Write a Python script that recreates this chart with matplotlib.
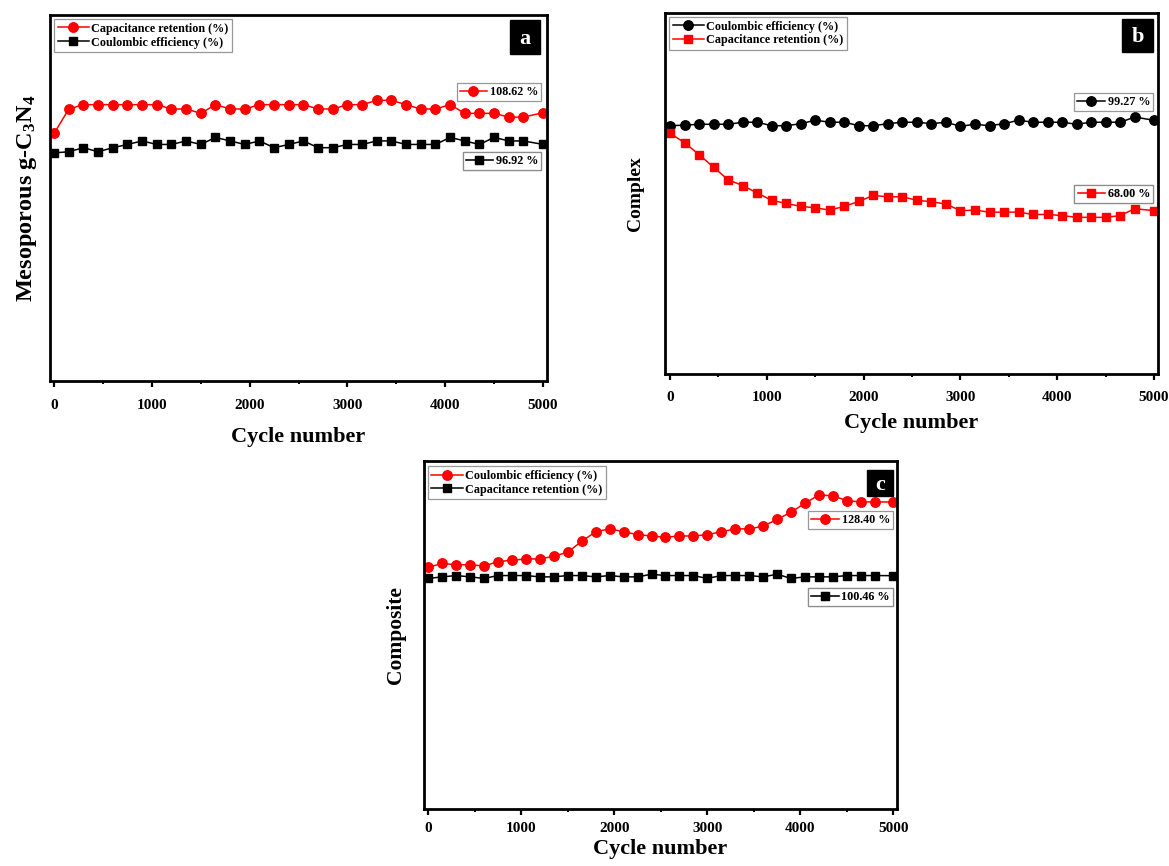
import matplotlib
matplotlib.use("Agg")
import matplotlib.pyplot as plt
from matplotlib.lines import Line2D
from matplotlib.patches import Rectangle
from matplotlib.ticker import MultipleLocator

# ---- data -------------------------------------------------------------
cycles = [0, 150, 300, 450, 600, 750, 900, 1050, 1200, 1350, 1500, 1650,
          1800, 1950, 2100, 2250, 2400, 2550, 2700, 2850, 3000, 3150, 3300,
          3450, 3600, 3750, 3900, 4050, 4200, 4350, 4500, 4650, 4800, 5000]

# (a) mesoporous g-C3N4
a_retention = [101.0, 110.0, 111.6, 111.6, 111.6, 111.6, 111.6, 111.6, 110.0,
               110.0, 108.4, 111.6, 110.0, 110.0, 111.6, 111.6, 111.6, 111.6,
               110.0, 110.0, 111.6, 111.6, 113.2, 113.2, 111.6, 110.0, 110.0,
               111.6, 108.4, 108.4, 108.4, 107.0, 107.0, 108.62]
a_coulombic = [93.8, 94.2, 95.7, 94.2, 95.7, 96.9, 98.2, 96.9, 96.9, 98.2,
               96.9, 99.5, 98.2, 96.9, 98.2, 95.7, 96.9, 98.2, 95.7, 95.7,
               96.9, 96.9, 98.2, 98.2, 96.9, 96.9, 96.9, 99.5, 98.2, 96.9,
               99.5, 98.2, 98.2, 96.92]

# (b) complex
b_coulombic = [97.4, 97.6, 97.9, 97.9, 97.9, 98.6, 98.6, 97.4, 97.4, 98.1,
               99.3, 98.6, 98.6, 97.4, 97.4, 98.1, 98.6, 98.6, 98.1, 98.6,
               97.2, 97.9, 97.4, 98.1, 99.3, 98.6, 98.6, 98.6, 97.9, 98.6,
               98.6, 98.6, 100.4, 99.27]
b_retention = [94.8, 91.5, 87.4, 83.0, 78.7, 76.7, 74.1, 71.6, 70.5, 69.5,
               69.0, 68.2, 69.5, 71.2, 73.3, 72.8, 72.8, 71.6, 71.1, 70.3,
               68.0, 68.2, 67.5, 67.5, 67.5, 66.7, 66.7, 66.3, 65.7, 65.7,
               65.7, 66.3, 68.7, 68.00]

# (c) composite
c_coulombic = [103.6, 105.1, 104.6, 104.6, 104.1, 105.8, 106.3, 106.8, 106.8,
               107.8, 109.4, 113.5, 117.1, 118.2, 117.1, 116.0, 115.5, 115.0,
               115.5, 115.5, 116.0, 117.1, 118.2, 118.2, 119.2, 121.8, 124.5,
               127.9, 131.1, 130.7, 128.9, 128.4, 128.4, 128.40]
c_retention = [99.4, 100.0, 100.5, 100.0, 99.4, 100.5, 100.5, 100.5, 100.0,
               100.0, 100.5, 100.5, 100.0, 100.5, 100.0, 100.0, 101.0, 100.5,
               100.5, 100.5, 99.4, 100.5, 100.5, 100.5, 100.0, 101.0, 99.4,
               100.0, 100.0, 100.0, 100.5, 100.5, 100.5, 100.46]

x_ticks = [0, 1000, 2000, 3000, 4000, 5000]

# ---- style ------------------------------------------------------------
plt.rcParams["font.family"] = ["Liberation Serif", "DejaVu Serif"]
plt.rcParams["font.weight"] = "bold"
plt.rcParams["mathtext.fontset"] = "custom"
plt.rcParams["mathtext.rm"] = "Liberation Serif:bold"
plt.rcParams["mathtext.bf"] = "Liberation Serif:bold"
plt.rcParams["mathtext.it"] = "Liberation Serif:bold"
plt.rcParams["mathtext.default"] = "bf"

RED = "#ff0000"
BLACK = "#000000"
LW = 1.1
MS_O = 6.8
MS_S = 6.0
LEG_FS = 8.7

fig = plt.figure(figsize=(11.69, 8.66), dpi=100)


def series(ax, y, color, marker, label):
    ms = MS_O if marker == "o" else MS_S
    ax.plot(cycles, y, color=color, lw=LW, marker=marker, ms=ms,
            mfc=color, mec=color, label=label)
    return Line2D([], [], color=color, lw=LW, marker=marker, ms=ms,
                  mfc=color, mec=color)


def value_box(ax, handle, text, anchor):
    leg = ax.legend([handle], [text], loc="upper right", bbox_to_anchor=anchor,
                    borderaxespad=0, fontsize=LEG_FS, frameon=True,
                    fancybox=False, edgecolor="#7f7f7f", handlelength=2.3,
                    handletextpad=0.2, borderpad=0.25, numpoints=1)
    leg.get_frame().set_linewidth(0.9)
    ax.add_artist(leg)


def style_axes(ax, ylim, xlim, letter, box, xlabel_y, ylabel, ylabel_x,
               ylabel_fs, tick_pad):
    ax.set_xlim(*xlim)
    ax.set_ylim(*ylim)
    ax.xaxis.set_major_locator(MultipleLocator(1000))
    ax.xaxis.set_minor_locator(MultipleLocator(500))
    ax.set_xticks(x_ticks)
    ax.set_yticks([])
    ax.tick_params(axis="x", which="major", direction="out", length=4.5,
                   width=1.6, labelsize=11, pad=tick_pad)
    ax.tick_params(axis="x", which="minor", direction="out", length=2.2,
                   width=1.4)
    ax.tick_params(top=False, right=False, left=False)
    for s in ax.spines.values():
        s.set_linewidth(2.0)
    ax.set_xlabel("Cycle number", fontsize=16, fontweight="bold")
    ax.xaxis.set_label_coords(0.5, xlabel_y)
    ax.xaxis.label.set_va("center")
    ax.text(ylabel_x, 0.5, ylabel, transform=ax.transAxes, rotation=90,
            ha="center", va="center", fontsize=ylabel_fs, fontweight="bold")
    x0, y0, x1, y1 = box
    ax.add_patch(Rectangle((x0, y0), x1 - x0, y1 - y0, transform=ax.transAxes,
                           facecolor="black", edgecolor="black", zorder=5,
                           clip_on=False))
    ax.text((x0 + x1) / 2, (y0 + y1) / 2 - 0.005, letter,
            transform=ax.transAxes, color="white", fontsize=16,
            fontweight="bold", ha="center", va="center", zorder=6)


def main_legend(ax, anchor):
    leg = ax.legend(loc="upper left", bbox_to_anchor=anchor, borderaxespad=0,
                    fontsize=LEG_FS, frameon=True, fancybox=False,
                    edgecolor="#7f7f7f", handlelength=2.6, handletextpad=0.2,
                    borderpad=0.3, labelspacing=0.15, numpoints=1)
    leg.get_frame().set_linewidth(0.9)
    ax.add_artist(leg)


# ---- panel a ----------------------------------------------------------
ax_a = fig.add_axes([0.0428, 0.5600, 0.4252, 0.4226])
h_ret = series(ax_a, a_retention, RED, "o", "Capacitance retention (%)")
h_ce = series(ax_a, a_coulombic, BLACK, "s", "Coulombic efficiency (%)")
main_legend(ax_a, (0.008, 0.989))
value_box(ax_a, h_ret, "108.62 %", (0.988, 0.814))
value_box(ax_a, h_ce, "96.92 %", (0.988, 0.626))
style_axes(ax_a, (9.5, 144.7), (-42, 5042), "a",
           (0.926, 0.893, 0.986, 0.986), -0.153,
           r"Mesoporous g-C$_3$N$_4$", -0.046, 17.5, 8.5)

# ---- panel b ----------------------------------------------------------
ax_b = fig.add_axes([0.5689, 0.5678, 0.4213, 0.4172])
h_ce = series(ax_b, b_coulombic, BLACK, "o", "Coulombic efficiency (%)")
h_ret = series(ax_b, b_retention, RED, "s", "Capacitance retention (%)")
main_legend(ax_b, (0.008, 0.989))
value_box(ax_b, h_ce, "99.27 %", (0.991, 0.779))
value_box(ax_b, h_ret, "68.00 %", (0.991, 0.524))
style_axes(ax_b, (11.4, 136.4), (-52, 5036), "b",
           (0.928, 0.892, 0.991, 0.983), -0.135,
           "Complex", -0.059, 14, 7.5)

# ---- panel c ----------------------------------------------------------
ax_c = fig.add_axes([0.3627, 0.0658, 0.4046, 0.4018])
h_ce = series(ax_c, c_coulombic, RED, "o", "Coulombic efficiency (%)")
h_ret = series(ax_c, c_retention, BLACK, "s", "Capacitance retention (%)")
main_legend(ax_c, (0.008, 0.985))
value_box(ax_c, h_ce, "128.40 %", (0.9915, 0.856))
value_box(ax_c, h_ret, "100.46 %", (0.9915, 0.635))
style_axes(ax_c, (12.0, 143.9), (-46, 5039), "c",
           (0.936, 0.899, 0.992, 0.975), -0.115,
           "Composite", -0.059, 15.5, 5)

fig.savefig("out.png", dpi=100)
